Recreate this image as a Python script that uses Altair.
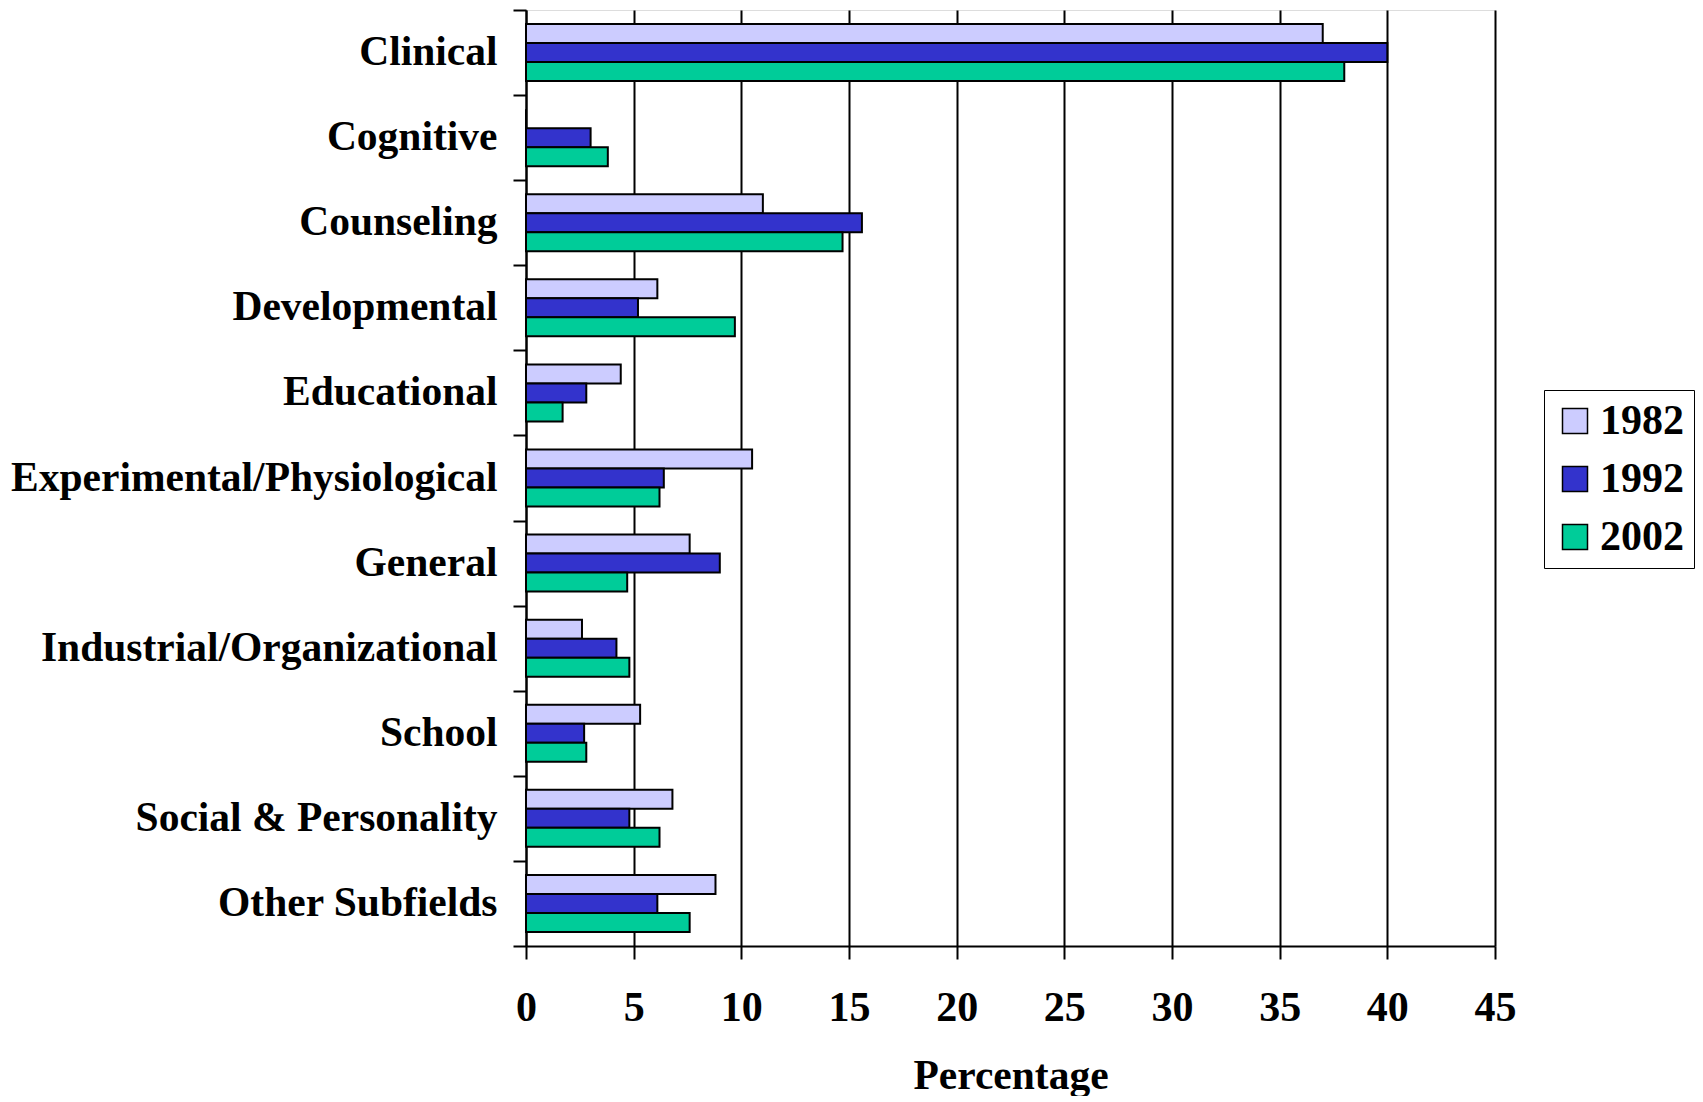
import altair as alt
import pandas as pd

categories = [
    "Clinical", "Cognitive", "Counseling", "Developmental", "Educational",
    "Experimental/Physiological", "General", "Industrial/Organizational",
    "School", "Social & Personality", "Other Subfields",
]
years = ["1982", "1992", "2002"]
v1982 = [37.0, 0.0, 11.0, 6.1, 4.4, 10.5, 7.6, 2.6, 5.3, 6.8, 8.8]
v1992 = [40.0, 3.0, 15.6, 5.2, 2.8, 6.4, 9.0, 4.2, 2.7, 4.8, 6.1]
v2002 = [38.0, 3.8, 14.7, 9.7, 1.7, 6.2, 4.7, 4.8, 2.8, 6.2, 7.6]
colors = ["#CCCCFF", "#3333CC", "#00CC99"]
x_ticks = [0, 5, 10, 15, 20, 25, 30, 35, 40, 45]

rows = []
for yr, vals in zip(years, [v1982, v1992, v2002]):
    for c, v in zip(categories, vals):
        rows.append({"Subfield": c, "Year": yr, "Percentage": v})
df = pd.DataFrame(rows)

FONT = "Liberation Serif"

chart = (
    alt.Chart(df)
    .mark_bar(stroke="black", strokeWidth=2, opacity=1)
    .encode(
        x=alt.X(
            "Percentage:Q",
            scale=alt.Scale(domain=[0, 45], nice=False, zero=True),
            axis=alt.Axis(
                values=x_ticks,
                grid=True,
                gridColor="black",
                gridWidth=2,
                gridOpacity=1,
                domainColor="black",
                domainWidth=2,
                tickColor="black",
                tickWidth=2,
                tickSize=13,
                labelFont=FONT,
                labelFontWeight="bold",
                labelFontSize=42,
                labelColor="black",
                labelPadding=28,
                labelFlush=False,
                title="Percentage",
                titleFont=FONT,
                titleFontWeight="bold",
                titleFontSize=41.5,
                titleColor="black",
                titlePadding=27,
            ),
        ),
        y=alt.Y(
            "Subfield:N",
            sort=categories,
            scale=alt.Scale(paddingInner=0, paddingOuter=0),
            axis=alt.Axis(
                title=None,
                grid=False,
                tickBand="extent",
                domainColor="black",
                domainWidth=2,
                tickColor="black",
                tickWidth=2,
                tickSize=13,
                labelFont=FONT,
                labelFontWeight="bold",
                labelFontSize=41.5,
                labelColor="black",
                labelPadding=16,
                labelLimit=0,
                labelOverlap=False,
            ),
        ),
        yOffset=alt.YOffset(
            "Year:N",
            sort=years,
            scale=alt.Scale(paddingInner=0, paddingOuter=0.74),
        ),
        color=alt.Color(
            "Year:N",
            sort=years,
            scale=alt.Scale(domain=years, range=colors),
            legend=alt.Legend(
                title=None,
                orient="none",
                legendX=1018,
                legendY=380,
                strokeColor="black",
                fillColor="white",
                padding=10,
                rowPadding=16,
                symbolType="square",
                symbolSize=625,
                symbolStrokeColor="black",
                symbolStrokeWidth=1.5,
                symbolOpacity=1,
                labelFont=FONT,
                labelFontWeight="bold",
                labelFontSize=42,
                labelColor="black",
                labelOffset=4,
                labelLimit=0,
            ),
        ),
    )
    .properties(
        width=969,
        height=936,
        autosize=alt.AutoSizeParams(type="none"),
        padding={"left": 518, "top": 2, "right": 200, "bottom": 150},
    )
    .configure_view(stroke="black", strokeWidth=2)
    .configure_legend(strokeWidth=2, labelFontWeight="bold", labelFont=FONT)
    .configure(background="white")
)

chart.save("out.html", embed_options={"renderer": "svg", "actions": False})
